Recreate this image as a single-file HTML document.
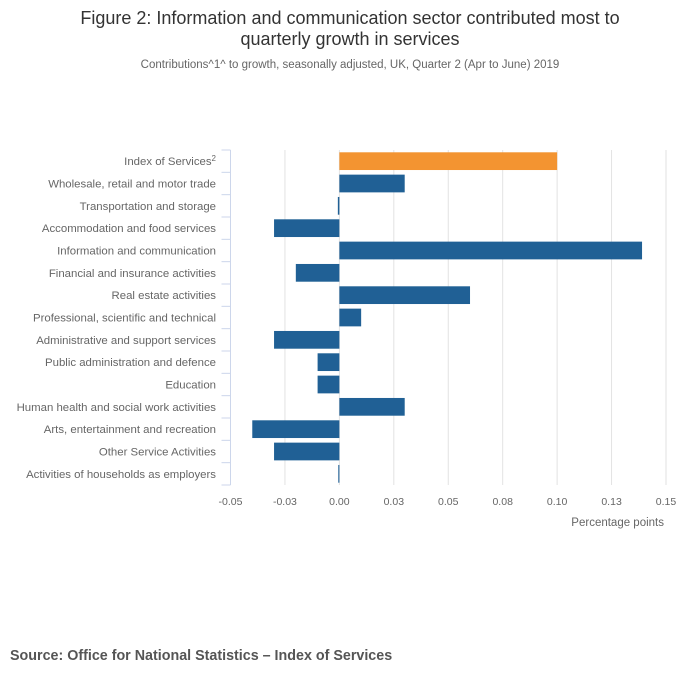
<!DOCTYPE html>
<html><head><meta charset="utf-8"><style>
body{margin:0;background:#fff;font-family:"Liberation Sans","DejaVu Sans",sans-serif;}
</style></head><body>
<svg width="700" height="682" xmlns="http://www.w3.org/2000/svg" font-family="Liberation Sans, DejaVu Sans, sans-serif">
<text x="350" y="24" text-anchor="middle" font-size="18" fill="#333">Figure 2: Information and communication sector contributed most to</text>
<text x="350" y="45" text-anchor="middle" font-size="18" fill="#333">quarterly growth in services</text>
<text x="350" y="68" text-anchor="middle" font-size="11.5" fill="#666">Contributions^1^ to growth, seasonally adjusted, UK, Quarter 2 (Apr to June) 2019</text>
<g id="grid"></g><g id="bars"></g><g id="yaxis"></g><g id="xaxis"></g>
<text x="664" y="526" text-anchor="end" font-size="11.5" fill="#666">Percentage points</text>
<text x="10" y="660" font-size="14.3" font-weight="bold" fill="#555">Source: Office for National Statistics – Index of Services</text>
</svg>
<script>
const categories=["Index of Services","Wholesale, retail and motor trade","Transportation and storage","Accommodation and food services","Information and communication","Financial and insurance activities","Real estate activities","Professional, scientific and technical","Administrative and support services","Public administration and defence","Education","Human health and social work activities","Arts, entertainment and recreation","Other Service Activities","Activities of households as employers"];
const values=[0.1,0.03,-0.0007,-0.03,0.139,-0.02,0.06,0.01,-0.03,-0.01,-0.01,0.03,-0.04,-0.03,-0.0005];
const ticks=[-0.05,-0.025,0,0.025,0.05,0.075,0.1,0.125,0.15];
const tickLabels=["-0.05","-0.03","0.00","0.03","0.05","0.08","0.10","0.13","0.15"];
const NS="http://www.w3.org/2000/svg";
const x0=230.5,x1=666,xmin=-0.05,xmax=0.15,plotTop=150,plotBottom=485;
const xs=v=>x0+(v-xmin)/(xmax-xmin)*(x1-x0);
const band=(plotBottom-plotTop)/categories.length;
const ys=i=>plotTop+i*band;
function mk(t,a,p){const e=document.createElementNS(NS,t);for(const k in a)e.setAttribute(k,a[k]);document.getElementById(p).appendChild(e);return e;}
ticks.forEach((t,i)=>{
 if(i>0){const g=mk('line',{x1:xs(t),x2:xs(t),y1:plotTop,y2:plotBottom,stroke:'#e2e2e2','stroke-width':1},'grid');
 
 }
 const l=mk('text',{x:xs(t),y:plotBottom+20,'text-anchor':'middle','font-size':10.5,fill:'#666'},'xaxis');
 l.textContent=tickLabels[i];
 
 
});
const ax=mk('line',{x1:x0,x2:x0,y1:plotTop,y2:plotBottom,stroke:'#ccd6eb','stroke-width':1},'yaxis');


categories.forEach((c,i)=>{
 const v=values[i];
 const a=xs(Math.min(0,v)),b=xs(Math.max(0,v));
 const r=mk('rect',{x:a,y:ys(i)+2.3,width:Math.max(1,b-a),height:band-4.6,fill:i==0?'#f39431':'#206095'},'bars');
 
 
 const tk=mk('line',{x1:x0-9,x2:x0,y1:ys(i),y2:ys(i),stroke:'#ccd6eb'},'yaxis');
 
 
 const t=mk('text',{x:216,y:ys(i)+band/2+4,'text-anchor':'end','font-size':11.4,fill:'#666'},'yaxis');
 t.textContent=c;
 if(i==0){const s=document.createElementNS(NS,'tspan');s.setAttribute('dy','-4');s.setAttribute('font-size','8');s.textContent='2';t.appendChild(s);}
 
 
});
const tkb=mk('line',{x1:x0-9,x2:x0,y1:plotBottom,y2:plotBottom,stroke:'#ccd6eb'},'yaxis');


</script>
</body></html>
